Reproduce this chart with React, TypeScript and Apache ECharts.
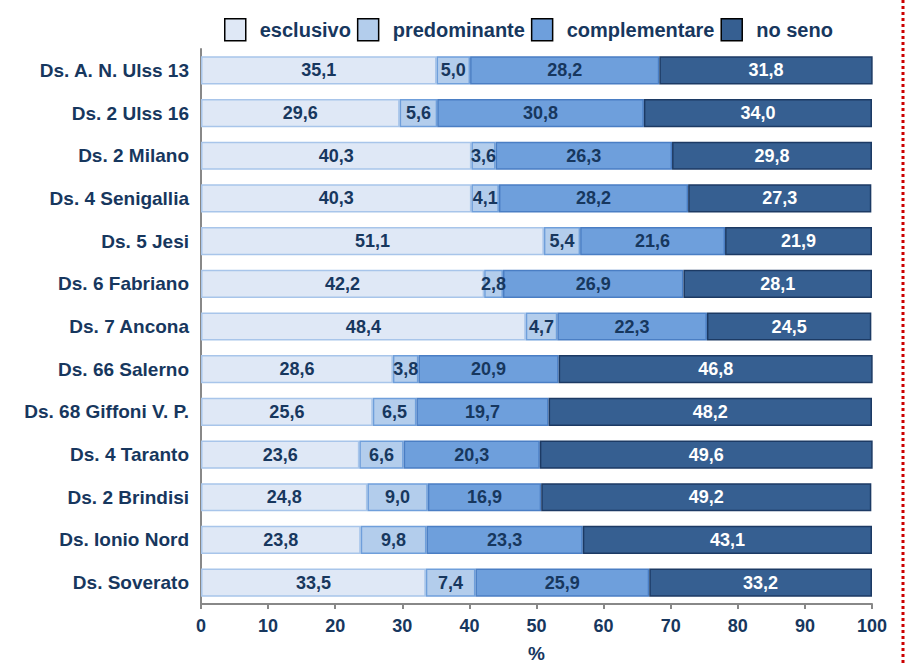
import React, { useEffect, useRef } from "react";
import * as echarts from "echarts";

const categories = [
  "Ds. A. N. Ulss 13",
  "Ds. 2 Ulss 16",
  "Ds. 2 Milano",
  "Ds. 4 Senigallia",
  "Ds. 5 Jesi",
  "Ds. 6 Fabriano",
  "Ds. 7 Ancona",
  "Ds. 66 Salerno",
  "Ds. 68 Giffoni V. P.",
  "Ds. 4 Taranto",
  "Ds. 2 Brindisi",
  "Ds. Ionio Nord",
  "Ds. Soverato",
];
const esclusivo = [35.1, 29.6, 40.3, 40.3, 51.1, 42.2, 48.4, 28.6, 25.6, 23.6, 24.8, 23.8, 33.5];
const predominante = [5.0, 5.6, 3.6, 4.1, 5.4, 2.8, 4.7, 3.8, 6.5, 6.6, 9.0, 9.8, 7.4];
const complementare = [28.2, 30.8, 26.3, 28.2, 21.6, 26.9, 22.3, 20.9, 19.7, 20.3, 16.9, 23.3, 25.9];
const noSeno = [31.8, 34.0, 29.8, 27.3, 21.9, 28.1, 24.5, 46.8, 48.2, 49.6, 49.2, 43.1, 33.2];
const seriesNames = ["esclusivo", "predominante", "complementare", "no seno"];
const xTicks = [0, 10, 20, 30, 40, 50, 60, 70, 80, 90, 100];

const NAVY = "#17375e";
const FONT = "'Liberation Sans', Arial, Helvetica, sans-serif";

export default function App() {
  const ref = useRef<HTMLDivElement>(null);
  useEffect(() => {
    const chart = echarts.init(ref.current!, null, { renderer: "svg" });
    const fills = ["#dfe8f6", "#b3cdec", "#6e9fdc", "#365f91"];
    const borders = ["#a8c5ea", "#6f9fdb", "#4a7ec4", "#1c3a64"];
    const labelColors = [NAVY, NAVY, NAVY, "#ffffff"];
    const datas = [esclusivo, predominante, complementare, noSeno];
    const fmt = (v: number) => v.toFixed(1).replace(".", ",");
    chart.setOption({
      animation: false,
      textStyle: { fontFamily: FONT },
      legend: {
        top: 13,
        left: 219,
        icon: "rect",
        itemWidth: 21,
        itemHeight: 22,
        itemGap: 6,
        data: seriesNames.map((n, i) => ({
          name: n,
          itemStyle: { color: fills[i], borderColor: "#000", borderWidth: 1.5 },
        })),
        textStyle: { color: NAVY, fontWeight: "bold", fontSize: 20, fontFamily: FONT, padding: [0, 0, 0, 9] },
      },
      grid: { left: 201, right: 33, top: 49, bottom: 62, containLabel: false, outerBoundsMode: "none" },
      xAxis: {
        type: "value",
        min: 0,
        max: 100,
        interval: 10,
        name: "%",
        nameLocation: "middle",
        nameGap: 40,
        nameTextStyle: { color: NAVY, fontWeight: "bold", fontSize: 19, fontFamily: FONT },
        axisLine: { show: true, lineStyle: { color: "#888888", width: 2 } },
        axisTick: { show: true, length: 5, lineStyle: { color: "#888888", width: 2 } },
        splitLine: { show: false },
        axisLabel: {
          color: NAVY,
          fontWeight: "bold",
          fontSize: 18,
          fontFamily: FONT,
          margin: 13,
          formatter: (v: number) => (xTicks.includes(v) ? String(v) : ""),
        },
      },
      yAxis: {
        type: "category",
        data: categories,
        inverse: true,
        axisLine: { show: true, lineStyle: { color: "#888888", width: 2 } },
        axisTick: { show: false },
        axisLabel: {
          color: NAVY,
          fontWeight: "bold",
          fontSize: 19,
          fontFamily: FONT,
          margin: 12,
        },
      },
      series: seriesNames.map((n, i) => ({
        name: n,
        type: "bar",
        stack: "total",
        barWidth: "66%",
        data: datas[i],
        itemStyle: { color: fills[i], borderColor: borders[i], borderWidth: 1.5 },
        label: {
          show: true,
          position: "inside",
          color: labelColors[i],
          fontWeight: "bold",
          fontSize: 18,
          fontFamily: FONT,
          formatter: (p: any) => fmt(p.value),
        },
      })),
      graphic: [
        {
          type: "line",
          shape: { x1: 903, y1: 0, x2: 903, y2: 666 },
          style: { stroke: "#cc0000", lineWidth: 3, lineDash: [3, 3] },
        },
      ],
    });
    return () => chart.dispose();
  }, []);
  return (
    <div
      ref={ref}
      style={{ position: "absolute", left: 0, top: 0, width: 905, height: 666, background: "#fff" }}
    />
  );
}
